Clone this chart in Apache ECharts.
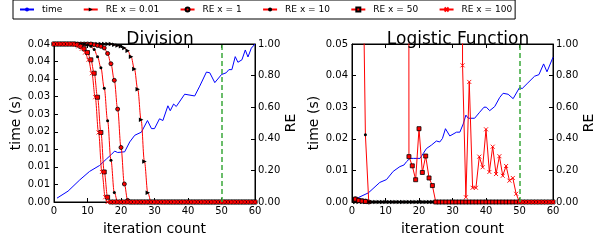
<!DOCTYPE html>
<html><head><meta charset="utf-8">
<script src="https://cdn.jsdelivr.net/npm/echarts@6/dist/echarts.min.js"></script>
<style>html,body{margin:0;padding:0;background:#fff}#c{width:603px;height:241px}</style>
</head><body><div id="c"></div>
<script>
// ---------- tick labels ----------
const iterTicks = ['0','10','20','30','40','50','60'];
const divTimeTicks = ['0.00','0.01','0.01','0.01','0.02','0.03','0.03','0.04','0.04','0.04'];
const lfTimeTicks = ['0.00','0.01','0.02','0.03','0.04','0.05'];
const reTicks = ['0.00','0.20','0.40','0.60','0.80','1.00'];
const seriesNames = ['time','RE x = 0.01','RE x = 1','RE x = 10','RE x = 50','RE x = 100'];

// ---------- Division ----------
const divTimeIter = [0.9,4.2,7.7,10.6,13.6,15.6,17.1,18.1,19,21.1,22.6,24.1,26.1,27.9,29.1,30,31.5,32.5,34,34.7,35.7,36.5,39,42,43.5,45.5,46.5,48,50,51.4,52.2,53.1,54.1,54.9,56.1,57.1,57.9,58.9,60];
const divTime = [0.0011,0.0031,0.0063,0.0087,0.0104,0.0122,0.0135,0.0145,0.0141,0.0143,0.0171,0.019,0.0199,0.0232,0.0209,0.0209,0.0237,0.0232,0.0274,0.026,0.0279,0.0272,0.0307,0.0302,0.033,0.037,0.0368,0.034,0.0363,0.0368,0.0377,0.0377,0.0414,0.0398,0.0405,0.0433,0.0413,0.0438,0.045];

const divIter = [0,1,2,3,4,5,6,7,8,9,10,11,12,13,14,15,16,17,18,19,20,21,22,23,24,25,26,27,28,29,30,31,32,33,34,35,36,37,38,39,40,41,42,43,44,45,46,47,48,49,50,51,52,53,54,55,56,57,58,59,60];
const divRe001 = [
 1,1,1,1,1,1,1,1,1,1,
 1,1,1,1,1,1,1,1,0.995,0.99,
 0.985,0.975,0.958,0.92,0.842,0.713,0.52,0.256,0.058,0,
 0,0,0,0,0,0,0,0,0,0,
 0,0,0,0,0,0,0,0,0,0,
 0,0,0,0,0,0,0,0,0,0,
 0];
const divRe1 = [
 1,1,1,1,1,1,1,1,1,1,
 1,1,0.995,0.99,0.985,0.975,0.94,0.875,0.77,0.588,
 0.345,0.114,0.01,0,0,0,0,0,0,0,
 0,0,0,0,0,0,0,0,0,0,
 0,0,0,0,0,0,0,0,0,0,
 0,0,0,0,0,0,0,0,0,0,
 0];
const divRe10 = [
 1,1,1,1,1,1,1,1,1,1,
 0.995,0.985,0.965,0.92,0.85,0.72,0.515,0.265,0.06,0,
 0,0,0,0,0,0,0,0,0,0,
 0,0,0,0,0,0,0,0,0,0,
 0,0,0,0,0,0,0,0,0,0,
 0,0,0,0,0,0,0,0,0,0,
 0];
const divRe50 = [
 1,1,1,1,1,1,1,0.995,0.985,0.97,
 0.946,0.9,0.815,0.663,0.44,0.19,0.03,0,0,0,
 0,0,0,0,0,0,0,0,0,0,
 0,0,0,0,0,0,0,0,0,0,
 0,0,0,0,0,0,0,0,0,0,
 0,0,0,0,0,0,0,0,0,0,
 0];
const divRe100Iter = [0,1,2,3,4,5,6.3,7.3,8.3,9.3,10.3,11.3,12.3,13.3,14.3,15.3,16,17,18,19,20,21,22,23,24,25,26,27,28,29,30,31,32,33,34,35,36,37,38,39,40,41,42,43,44,45,46,47,48,49,50,51,52,53,54,55,56,57,58,59,60];
const divRe100 = [
 1,1,1,1,1,1,0.995,0.985,0.97,0.946,
 0.9,0.815,0.663,0.44,0.19,0.03,0,0,0,0,
 0,0,0,0,0,0,0,0,0,0,
 0,0,0,0,0,0,0,0,0,0,
 0,0,0,0,0,0,0,0,0,0,
 0,0,0,0,0,0,0,0,0,0,
 0];

// ---------- Logistic Function ----------
const lfTimeIter = [0.4,1.9,4.9,8.3,10.3,12.3,14.3,15.5,16.3,17.3,18.3,20.3,21.3,22.2,23.7,25.2,26.2,27,27.9,29.2,31.2,32.2,33.2,34,34.7,36.6,38.1,39.4,40.1,41.1,42.6,44.1,45.1,46.6,48.1,50,50.8,52.5,54.5,55.8,57.2,58.2,60];
const lfTime = [0.0006,0.0014,0.0029,0.0062,0.0071,0.0097,0.0112,0.0117,0.0128,0.0138,0.0138,0.0138,0.0154,0.0169,0.018,0.0193,0.019,0.0201,0.0232,0.0209,0.0221,0.0221,0.0247,0.0275,0.0265,0.0265,0.0284,0.03,0.03,0.0289,0.0302,0.0331,0.0344,0.0341,0.0327,0.0362,0.0359,0.0377,0.0398,0.0403,0.0437,0.0412,0.0458];

const lfRe001Iter = [1,2,3,4,5,6,7,8,9,10,11,12,13,14,15,16,17,18,19,20,21,22,23,24,25,26,27,28,29,30,31,32,33,34,35,36,37,38,39,40,41,42,43,44,45,46,47,48,49,50,51,52,53,54,55,56,57,58,59,60];
const lfRe001 = [
 0,0,0,0,0,0,0,0,0,0,
 0,0,0,0,0,0,0,0,0,0,
 0,0,0,0,0,0,0,0,0,0,
 0,0,0,0,0,0,0,0,0,0,
 0,0,0,0,0,0,0,0,0,0,
 0,0,0,0,0,0,0,0,0,0];
const lfRe1Iter = [1,2,3,4,5];
const lfRe1 = [0.02,0.012,0.008,0.005,0];
const lfRe10Iter = [3,4,5,6,7,8,9,10,11,12,13,14,15,16,17,18,19,20,21,22,23,24,25,26,27,28,29,30,31,32,33,34,35,36,37,38,39,40,41,42,43,44,45,46,47,48,49,50,51,52,53,54,55,56,57,58,59,60];
const lfRe10 = [
 1.95,0.426,0,0,0,0,0,0,0,0,
 0,0,0,0,0,0,0,0,0,0,
 0,0,0,0,0,0,0,0,0,0,
 0,0,0,0,0,0,0,0,0,0,
 0,0,0,0,0,0,0,0,0,0,
 0,0,0,0,0,0,0,0];
const lfRe50Iter = [1,2,3,4,5,16,17,18,19,20,21,22,23,24,25,26,27,28,29,30,31,32,33,34,35,36,37,38,39,40,41,42,43,44,45,46,47,48,49,50,51,52,53,54,55,56,57,58,59,60];
const lfRe50 = [
 0.018,0.01,0.006,0.004,null,40,0.287,0.229,0.141,0.464,
 0.187,0.291,0.152,0.104,0,0,0,0,0,0,
 0,0,0,0,0,0,0,0,0,0,
 0,0,0,0,0,0,0,0,0,0,
 0,0,0,0,0,0,0,0,0,0];
const lfRe100Iter = [32,33,34,35,36,37,38,39,40,41,42,43,44,45,46,47,48,49,50,51,52,53,54,55,56,57,58,59,60];
const lfRe100 = [40,0.865,0.03,0.76,0.09,0.09,0.287,0.22,0.46,0.19,0.35,0.177,0.29,0.166,0.228,0.135,0.152,0.052,0,0,0,0,0,0,0,0,0,0,0];

const markX = 50;

// ---------- build ----------
const pairs = (xs, ys) => xs.map((x, i) => [x, ys[i] == null ? '-' : ys[i]]);
const FONT = 'DejaVu Sans';

function xAx(gi, pos) {
  const bottom = pos === 'bottom';
  return {
    type: 'value', gridIndex: gi, position: pos, min: 0, max: 60, interval: 10,
    axisLine: { show: true, onZero: false, lineStyle: { color: '#000', width: 1 } },
    axisTick: { show: true, inside: true, length: 4, lineStyle: { color: '#000' } },
    axisLabel: bottom ? { show: true, fontSize: 10, color: '#000', margin: 4, fontFamily: FONT,
      formatter: v => iterTicks[Math.round(v / 10)] } : { show: false },
    splitLine: { show: false },
    name: bottom ? 'iteration count' : '', nameLocation: 'middle', nameGap: 20,
    nameTextStyle: { fontSize: 14, color: '#000', fontFamily: FONT }
  };
}
function yAx(gi, pos, max, interval, labels, name, gap, margin) {
  return {
    type: 'value', gridIndex: gi, position: pos, min: 0, max: max, interval: interval,
    axisLine: { show: true, onZero: false, lineStyle: { color: '#000', width: 1 } },
    axisTick: { show: true, inside: true, length: 4, lineStyle: { color: '#000' } },
    axisLabel: { show: true, fontSize: 10, color: '#000', margin: margin, fontFamily: FONT,
      formatter: v => labels[Math.round(v / interval)] },
    splitLine: { show: false },
    name: name, nameLocation: 'middle', nameGap: gap, nameRotate: 90,
    nameTextStyle: { fontSize: 14, color: '#000', fontFamily: FONT }
  };
}

const styles = {
  'RE x = 0.01': { symbol: 'triangle', symbolRotate: -90, symbolSize: 4.5, itemStyle: { color: '#000', borderColor: '#000', borderWidth: 0 } },
  'RE x = 1':    { symbol: 'circle', symbolSize: 4, itemStyle: { color: '#ff0000', borderColor: '#000', borderWidth: 0.8 } },
  'RE x = 10':   { symbol: 'circle', symbolSize: 3, itemStyle: { color: '#000', borderColor: '#000', borderWidth: 0 } },
  'RE x = 50':   { symbol: 'rect', symbolSize: 4, itemStyle: { color: '#ff0000', borderColor: '#000', borderWidth: 0.8 } },
  'RE x = 100':  { symbol: 'path://M0,0L10,10M10,0L0,10', symbolSize: 4, itemStyle: { color: 'none', borderColor: '#ff0000', borderWidth: 0.9 } }
};

function timeSeries(gi, xs, ys) {
  return {
    name: 'time', type: 'line', xAxisIndex: gi * 2, yAxisIndex: gi * 2,
    data: pairs(xs, ys), symbol: 'none', smooth: false,
    lineStyle: { color: '#0000ff', width: 1 }, itemStyle: { color: '#0000ff' },
    z: 2,
    markLine: { silent: true, symbol: 'none', label: { show: false },
      lineStyle: { color: '#3aa83a', type: [5, 3], width: 1.5 },
      data: [{ xAxis: markX }] }
  };
}
function reSeries(gi, name, xs, ys, smooth) {
  const s = styles[name];
  return Object.assign({
    name: name, type: 'line', xAxisIndex: gi * 2, yAxisIndex: gi * 2 + 1,
    data: pairs(xs, ys), showAllSymbol: true, showSymbol: true, connectNulls: false,
    smooth: smooth ? 0.35 : false, smoothMonotone: 'x', clip: true,
    lineStyle: { color: '#ff0000', width: 1 }, z: 3
  }, s);
}

const chart = echarts.init(document.getElementById('c'), null, { renderer: 'canvas' });
chart.setOption({
  animation: false,
  backgroundColor: '#fff',
  textStyle: { fontFamily: FONT },
  title: [
    { text: 'Division', left: 155, top: 26, textAlign: 'center',
      textStyle: { fontSize: 17, fontWeight: 'normal', color: '#000', fontFamily: FONT } },
    { text: 'Logistic Function', left: 453, top: 26, textAlign: 'center',
      textStyle: { fontSize: 17, fontWeight: 'normal', color: '#000', fontFamily: FONT } }
  ],
  legend: {
    data: seriesNames, top: 0, left: 13, padding: [5, 3, 5, 6],
    itemWidth: 14, itemHeight: 5, itemGap: 20.4, selectedMode: false,
    borderColor: '#000', borderWidth: 1,
    textStyle: { fontSize: 9, color: '#000', fontFamily: FONT, padding: [0, 0, 0, 3] }
  },
  grid: [
    { left: 54, top: 44, width: 201, height: 160, show: true, borderColor: '#000', borderWidth: 1, backgroundColor: 'transparent', containLabel: false },
    { left: 352, top: 44, width: 201, height: 160, show: true, borderColor: '#000', borderWidth: 1, backgroundColor: 'transparent', containLabel: false }
  ],
  xAxis: [xAx(0, 'bottom'), xAx(0, 'top'), xAx(1, 'bottom'), xAx(1, 'top')],
  yAxis: [
    yAx(0, 'left', 0.045, 0.005, divTimeTicks, 'time (s)', 31, 4),
    yAx(0, 'right', 1, 0.2, reTicks, 'RE', 29, 3),
    yAx(1, 'left', 0.05, 0.01, lfTimeTicks, 'time (s)', 31, 4),
    yAx(1, 'right', 1, 0.2, reTicks, 'RE', 29, 3)
  ],
  series: [
    timeSeries(0, divTimeIter, divTime),
    reSeries(0, 'RE x = 0.01', divIter, divRe001, true),
    reSeries(0, 'RE x = 1', divIter, divRe1, true),
    reSeries(0, 'RE x = 10', divIter, divRe10, true),
    reSeries(0, 'RE x = 50', divIter, divRe50, true),
    reSeries(0, 'RE x = 100', divRe100Iter, divRe100, true),
    Object.assign(timeSeries(1, lfTimeIter, lfTime), { xAxisIndex: 2, yAxisIndex: 2 }),
    Object.assign(reSeries(1, 'RE x = 0.01', lfRe001Iter, lfRe001, false), { xAxisIndex: 2, yAxisIndex: 3 }),
    Object.assign(reSeries(1, 'RE x = 1', lfRe1Iter, lfRe1, false), { xAxisIndex: 2, yAxisIndex: 3 }),
    Object.assign(reSeries(1, 'RE x = 10', lfRe10Iter, lfRe10, false), { xAxisIndex: 2, yAxisIndex: 3 }),
    Object.assign(reSeries(1, 'RE x = 50', lfRe50Iter, lfRe50, false), { xAxisIndex: 2, yAxisIndex: 3 }),
    Object.assign(reSeries(1, 'RE x = 100', lfRe100Iter, lfRe100, false), { xAxisIndex: 2, yAxisIndex: 3 })
  ]
});
</script></body></html>
